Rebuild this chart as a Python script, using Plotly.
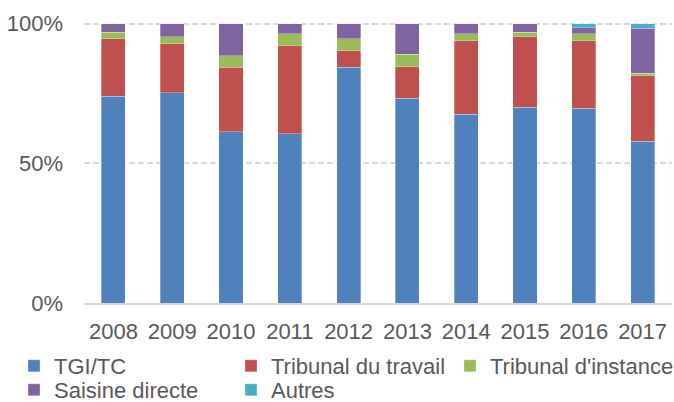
import plotly.graph_objects as go

years = ["2008", "2009", "2010", "2011", "2012", "2013", "2014", "2015", "2016", "2017"]
tgi_tc = [74.0, 75.3, 61.3, 60.6, 84.5, 73.4, 67.6, 70.1, 69.8, 58.0]
tribunal_travail = [20.7, 17.6, 23.2, 31.6, 5.9, 11.3, 26.4, 25.3, 24.2, 23.4]
tribunal_instance = [2.2, 2.5, 4.1, 4.2, 4.2, 4.4, 2.5, 1.6, 2.5, 0.9]
saisine_directe = [3.1, 4.6, 11.4, 3.6, 5.4, 10.9, 3.5, 3.0, 2.1, 16.1]
autres = [0.0, 0.0, 0.0, 0.0, 0.0, 0.0, 0.0, 0.0, 1.4, 1.6]

series = [
    ("TGI/TC", tgi_tc, "#4F81BD"),
    ("Tribunal du travail", tribunal_travail, "#C0504D"),
    ("Tribunal d'instance", tribunal_instance, "#9BBB59"),
    ("Saisine directe", saisine_directe, "#8064A2"),
    ("Autres", autres, "#4BACC6"),
]
# legend slot (left px, centre y px) for each series, matching the reference layout
legend_slots = [(14, 366), (231, 366), (450, 366), (14, 390), (231, 390)]

W, H = 674, 402
fig = go.Figure()
font = dict(family="Liberation Sans, Arial, sans-serif", size=22, color="#595959")
legfont = dict(family="Liberation Sans, Arial, sans-serif", size=22, color="#595959")

legends = {}
for i, (name, vals, color) in enumerate(series):
    lg = "legend" if i == 0 else f"legend{i+1}"
    fig.add_trace(go.Bar(
        x=years, y=vals, name=name, legend=lg, showlegend=True,
        marker=dict(color=color, line=dict(color="rgba(255,255,255,0.5)", width=0.6)),
    ))
    lx, ly = legend_slots[i]
    legends[lg] = dict(orientation="h", xref="container", yref="container",
                       x=lx / W, xanchor="left", y=1 - ly / H, yanchor="middle",
                       itemwidth=30, font=legfont, bgcolor="rgba(0,0,0,0)")

fig.update_layout(
    barmode="stack",
    bargap=0.59,
    width=W, height=H,
    showlegend=True,
    margin=dict(l=84, r=2, t=21, b=99, autoexpand=False),
    paper_bgcolor="white", plot_bgcolor="white",
    font=font,
    xaxis=dict(showgrid=False, showline=True, linecolor="#D9D9D9", linewidth=1.5,
               ticks="", ticklabelstandoff=8, tickfont=font, automargin=False),
    yaxis=dict(range=[0, 101], tickvals=[0, 50, 100], ticktext=["0%", "50%", "100%"],
               showgrid=True, gridcolor="#D9D9D9", griddash="6px,3px", gridwidth=1.5,
               zeroline=False, showline=False, ticks="", ticklabelstandoff=20, tickfont=font,
               automargin=False),
    **legends,
)

fig.write_html("out.html", config={"displayModeBar": False},
               post_script="document.body.style.margin='0';")
